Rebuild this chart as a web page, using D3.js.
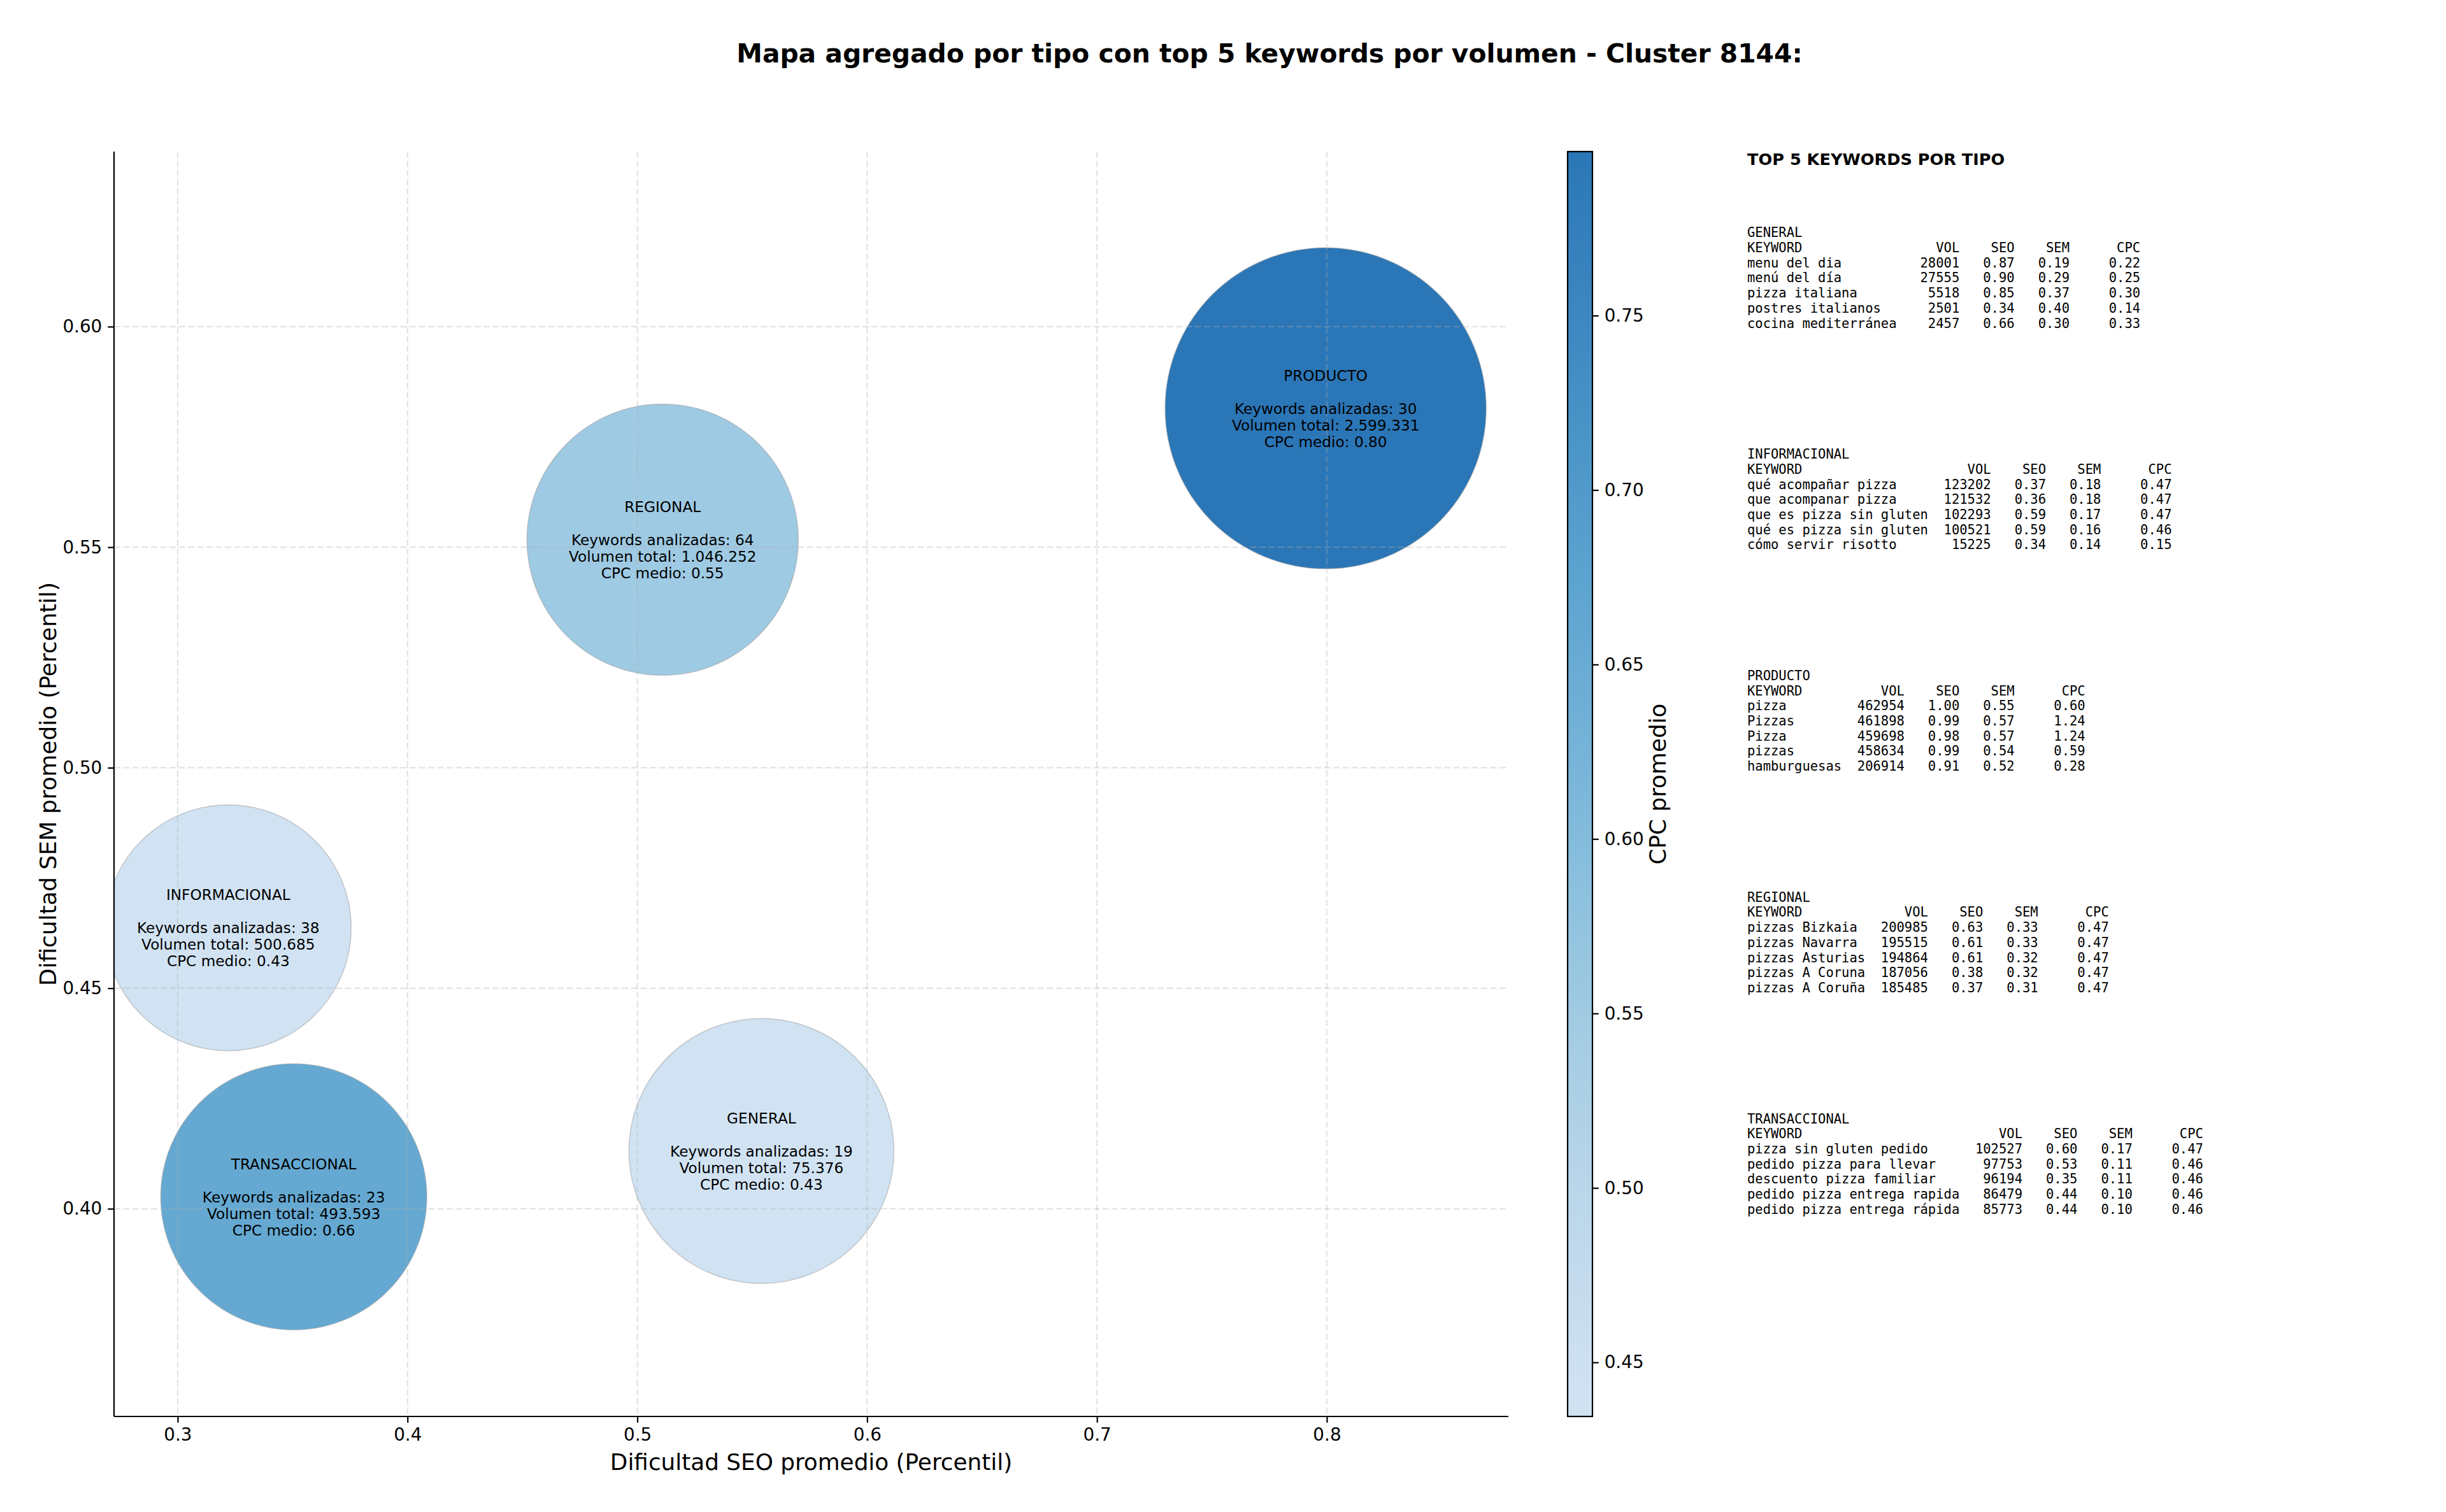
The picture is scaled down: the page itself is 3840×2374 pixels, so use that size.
<!DOCTYPE html>
<html>
<head>
<meta charset="utf-8">
<script src="https://cdn.jsdelivr.net/npm/d3@7"></script>
<style>
  html, body { margin: 0; padding: 0; background: #ffffff; }
  text { font-family: "DejaVu Sans", sans-serif; }
  .mono { font-family: "DejaVu Sans Mono", monospace; white-space: pre; }
</style>
</head>
<body>
<svg id="chart" width="3840" height="2374"></svg>
<script>
// ---------------- DATA ----------------
const chartTitle = "Mapa agregado por tipo con top 5 keywords por volumen - Cluster 8144:";
const types     = ["GENERAL", "INFORMACIONAL", "PRODUCTO", "REGIONAL", "TRANSACCIONAL"];
const seoAvg    = [0.554, 0.322, 0.7995, 0.511, 0.3505];
const semAvg    = [0.4131, 0.4637, 0.5815, 0.5517, 0.4027];
const kwCount   = [19, 38, 30, 64, 23];
const volTotal  = [75376, 500685, 2599331, 1046252, 493593];
const cpcAvg    = [0.4348, 0.4345, 0.797, 0.552, 0.657];
const markerSize = [22400, 19300, 32900, 23500, 22600];   // scatter "s" values

const xTicks  = [0.3, 0.4, 0.5, 0.6, 0.7, 0.8];
const yTicks  = [0.40, 0.45, 0.50, 0.55, 0.60];
const cbTicks = [0.45, 0.50, 0.55, 0.60, 0.65, 0.70, 0.75];

const top5General = [
  ["menu del dia", 28001, 0.87, 0.19, 0.22],
  ["menú del día", 27555, 0.90, 0.29, 0.25],
  ["pizza italiana", 5518, 0.85, 0.37, 0.30],
  ["postres italianos", 2501, 0.34, 0.40, 0.14],
  ["cocina mediterránea", 2457, 0.66, 0.30, 0.33]
];
const top5Informacional = [
  ["qué acompañar pizza", 123202, 0.37, 0.18, 0.47],
  ["que acompanar pizza", 121532, 0.36, 0.18, 0.47],
  ["que es pizza sin gluten", 102293, 0.59, 0.17, 0.47],
  ["qué es pizza sin gluten", 100521, 0.59, 0.16, 0.46],
  ["cómo servir risotto", 15225, 0.34, 0.14, 0.15]
];
const top5Producto = [
  ["pizza", 462954, 1.00, 0.55, 0.60],
  ["Pizzas", 461898, 0.99, 0.57, 1.24],
  ["Pizza", 459698, 0.98, 0.57, 1.24],
  ["pizzas", 458634, 0.99, 0.54, 0.59],
  ["hamburguesas", 206914, 0.91, 0.52, 0.28]
];
const top5Regional = [
  ["pizzas Bizkaia", 200985, 0.63, 0.33, 0.47],
  ["pizzas Navarra", 195515, 0.61, 0.33, 0.47],
  ["pizzas Asturias", 194864, 0.61, 0.32, 0.47],
  ["pizzas A Coruna", 187056, 0.38, 0.32, 0.47],
  ["pizzas A Coruña", 185485, 0.37, 0.31, 0.47]
];
const top5Transaccional = [
  ["pizza sin gluten pedido", 102527, 0.60, 0.17, 0.47],
  ["pedido pizza para llevar", 97753, 0.53, 0.11, 0.46],
  ["descuento pizza familiar", 96194, 0.35, 0.11, 0.46],
  ["pedido pizza entrega rapida", 86479, 0.44, 0.10, 0.46],
  ["pedido pizza entrega rápida", 85773, 0.44, 0.10, 0.46]
];
const top5ByType = [top5General, top5Informacional, top5Producto, top5Regional, top5Transaccional];

// ---------------- LAYOUT ----------------
const svg = d3.select("#chart");
svg.append("rect").attr("width", 3840).attr("height", 2374).attr("fill", "#ffffff");

const plot = { left: 179, right: 2368, top: 238, bottom: 2224 };
const x = d3.scaleLinear().domain([0.2723, 0.879]).range([plot.left, plot.right]);
const y = d3.scaleLinear().domain([0.3529, 0.6397]).range([plot.bottom, plot.top]);
const r = d3.scaleSqrt().domain([0, d3.max(markerSize)]).range([0, 252]);

const cpcMin = d3.min(cpcAvg), cpcMax = d3.max(cpcAvg);
const color = d3.scaleSequential(t => d3.interpolateBlues(0.2 + 0.56 * t)).domain([cpcMin, cpcMax]);

const data = types.map((t, i) => ({
  type: t, seo: seoAvg[i], sem: semAvg[i], n: kwCount[i], vol: volTotal[i],
  cpc: cpcAvg[i], size: markerSize[i]
}));

// title
svg.append("text")
  .attr("x", 1993).attr("y", 98)
  .attr("text-anchor", "middle")
  .attr("font-size", 40.8).attr("font-weight", "bold")
  .text(chartTitle);

// clip
svg.append("defs").append("clipPath").attr("id", "plotClip")
  .append("rect").attr("x", plot.left).attr("y", plot.top)
  .attr("width", plot.right - plot.left).attr("height", plot.bottom - plot.top);

// bubbles
const bubbles = svg.append("g").attr("clip-path", "url(#plotClip)");
bubbles.selectAll("circle").data(data).join("circle")
  .attr("cx", d => x(d.seo)).attr("cy", d => y(d.sem))
  .attr("r", d => r(d.size))
  .attr("fill", d => color(d.cpc))
  .attr("fill-opacity", 0.95)
  .attr("stroke", "#9a9a9a").attr("stroke-opacity", 0.5).attr("stroke-width", 1.5);

// grid (drawn above bubbles like matplotlib)
const grid = svg.append("g").attr("clip-path", "url(#plotClip)");
grid.selectAll("line.gx").data(xTicks).join("line")
  .attr("x1", d => x(d)).attr("x2", d => x(d))
  .attr("y1", plot.top).attr("y2", plot.bottom)
  .attr("stroke", "#b0b0b0").attr("stroke-opacity", 0.35)
  .attr("stroke-width", 2.2).attr("stroke-dasharray", "10,4.5");
grid.selectAll("line.gy").data(yTicks).join("line")
  .attr("y1", d => y(d)).attr("y2", d => y(d))
  .attr("x1", plot.left).attr("x2", plot.right)
  .attr("stroke", "#b0b0b0").attr("stroke-opacity", 0.35)
  .attr("stroke-width", 2.2).attr("stroke-dasharray", "10,4.5");

// bubble labels
const fmtVol = v => v.toLocaleString("de-DE");
const lineH = 26;
const labels = svg.append("g");
data.forEach(d => {
  const lines = [d.type, "", `Keywords analizadas: ${d.n}`, `Volumen total: ${fmtVol(d.vol)}`, `CPC medio: ${d.cpc.toFixed(2)}`];
  lines.forEach((s, i) => {
    if (!s) return;
    labels.append("text")
      .attr("x", x(d.seo))
      .attr("y", y(d.sem) + (i - 2) * lineH + 8.5)
      .attr("text-anchor", "middle")
      .attr("font-size", 23.2).attr("fill", "#000")
      .text(s);
  });
});

// axes
const xAxis = d3.axisBottom(x).tickValues(xTicks).tickFormat(d3.format(".1f")).tickSize(9.7).tickPadding(9);
const yAxis = d3.axisLeft(y).tickValues(yTicks).tickFormat(d3.format(".2f")).tickSize(9.7).tickPadding(9);
const gx = svg.append("g").attr("transform", `translate(0,${plot.bottom})`).call(xAxis);
const gy = svg.append("g").attr("transform", `translate(${plot.left},0)`).call(yAxis);
[gx, gy].forEach(g => {
  g.select(".domain").attr("stroke", "#000").attr("stroke-width", 2.2);
  g.selectAll(".tick line").attr("stroke", "#000").attr("stroke-width", 2.2);
  g.selectAll(".tick text").attr("font-size", 27.8).attr("fill", "#000")
    .attr("font-family", "DejaVu Sans");
});
gx.select(".domain").attr("d", `M${plot.left},0H${plot.right}`);
gy.select(".domain").attr("d", `M0,${plot.bottom}V${plot.top}`);

svg.append("text")
  .attr("x", (plot.left + plot.right) / 2).attr("y", 2308)
  .attr("text-anchor", "middle").attr("font-size", 35.8)
  .text("Dificultad SEO promedio (Percentil)");
svg.append("text")
  .attr("transform", `translate(88,${(plot.top + plot.bottom) / 2}) rotate(-90)`)
  .attr("text-anchor", "middle").attr("font-size", 35.8)
  .text("Dificultad SEM promedio (Percentil)");

// colorbar
const cb = { x: 2461, w: 39, top: plot.top, bottom: plot.bottom };
const cbScale = d3.scaleLinear().domain([cpcMin, cpcMax]).range([cb.bottom, cb.top]);
const grad = svg.select("defs").append("linearGradient").attr("id", "cbGrad")
  .attr("x1", 0).attr("y1", 1).attr("x2", 0).attr("y2", 0);
d3.range(0, 1.0001, 0.05).forEach(t => {
  grad.append("stop").attr("offset", t)
    .attr("stop-color", color(cpcMin + t * (cpcMax - cpcMin)))
    .attr("stop-opacity", 0.95);
});
svg.append("rect").attr("x", cb.x).attr("y", cb.top).attr("width", cb.w)
  .attr("height", cb.bottom - cb.top).attr("fill", "url(#cbGrad)")
  .attr("stroke", "#000").attr("stroke-width", 2.2);
const cbAxis = d3.axisRight(cbScale).tickValues(cbTicks).tickFormat(d3.format(".2f")).tickSize(9.7).tickPadding(9);
const gcb = svg.append("g").attr("transform", `translate(${cb.x + cb.w},0)`).call(cbAxis);
gcb.select(".domain").remove();
gcb.selectAll(".tick line").attr("stroke", "#000").attr("stroke-width", 2.2);
gcb.selectAll(".tick text").attr("font-size", 27.8).attr("fill", "#000").attr("font-family", "DejaVu Sans");
svg.append("text")
  .attr("transform", `translate(2615,${(cb.top + cb.bottom) / 2}) rotate(-90)`)
  .attr("text-anchor", "middle").attr("font-size", 35.8)
  .text("CPC promedio");

// side tables
svg.append("text")
  .attr("x", 2743).attr("y", 259)
  .attr("font-size", 25.6).attr("font-weight", "bold")
  .text("TOP 5 KEYWORDS POR TIPO");

const tblFont = 20.5, tblLine = 23.7;
types.forEach((t, bi) => {
  const rows = top5ByType[bi];
  const L = d3.max(rows, rw => rw[0].length);
  const lines = [t,
    "KEYWORD".padEnd(L) + "VOL".padStart(8) + "SEO".padStart(7) + "SEM".padStart(7) + "CPC".padStart(9)];
  rows.forEach(rw => {
    lines.push(rw[0].padEnd(L) + String(rw[1]).padStart(8) + rw[2].toFixed(2).padStart(7) +
               rw[3].toFixed(2).padStart(7) + rw[4].toFixed(2).padStart(9));
  });
  const y0 = 365 + bi * 347.8 + 0.36 * tblFont;
  const txt = svg.append("text").attr("class", "mono")
    .attr("xml:space", "preserve")
    .attr("font-size", tblFont).attr("fill", "#000");
  lines.forEach((s, i) => {
    txt.append("tspan").attr("x", 2743).attr("y", y0 + i * tblLine).text(s);
  });
});
</script>
</body>
</html>
